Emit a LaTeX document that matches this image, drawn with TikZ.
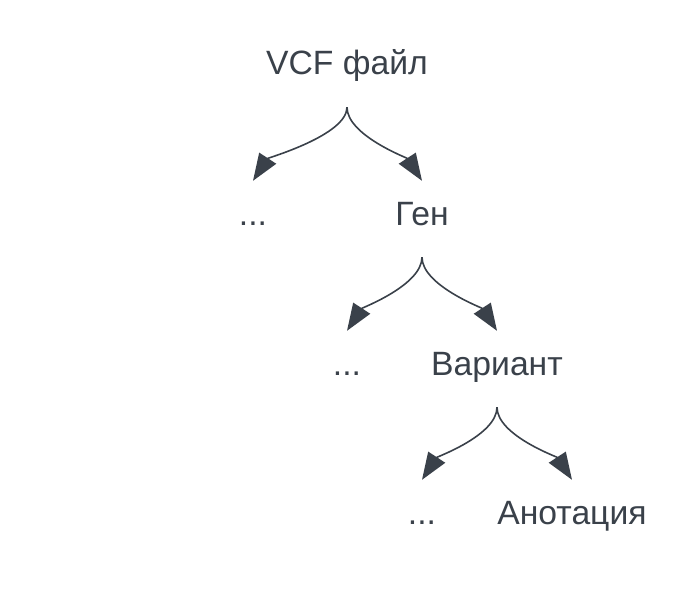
\documentclass[tikz,border=0pt]{standalone}
\usepackage{fontspec}
\setmainfont{Liberation Sans}
\usetikzlibrary{arrows.meta}
\definecolor{ink}{HTML}{3A414A}

\begin{document}
\begin{tikzpicture}[x=1pt, y=-1pt,
  lbl/.style={text=ink, font=\fontsize{33.7}{40}\selectfont, inner xsep=0pt, inner ysep=20pt, text height=24pt, text depth=12pt},
  branch/.style={draw=ink, line width=1.6pt, -{Triangle[length=27pt, width=20pt]}}]
\useasboundingbox (0,0) rectangle (694,594);

\node[lbl] (vcf) at (347,69) {VCF файл};
\node[lbl] (dotsA) at (253,219) {...};
\node[lbl] (gen) at (422,219) {Ген};
\node[lbl] (dotsB) at (347,369) {...};
\node[lbl] (var) at (497,369) {Вариант};
\node[lbl] (dotsC) at (422,518) {...};
\node[lbl] (anot) at (572,518) {Анотация};

% left and right branches
\foreach \p/\c in {vcf/dotsA, gen/dotsB, var/dotsC} {
  \draw[branch] (\p.south) .. controls +(0,28) and +(15,-23) .. (\c.north);
}
\foreach \p/\c in {vcf/gen, gen/var, var/anot} {
  \draw[branch] (\p.south) .. controls +(0,28) and +(-15,-23) .. (\c.north);
}
\end{tikzpicture}
\end{document}
